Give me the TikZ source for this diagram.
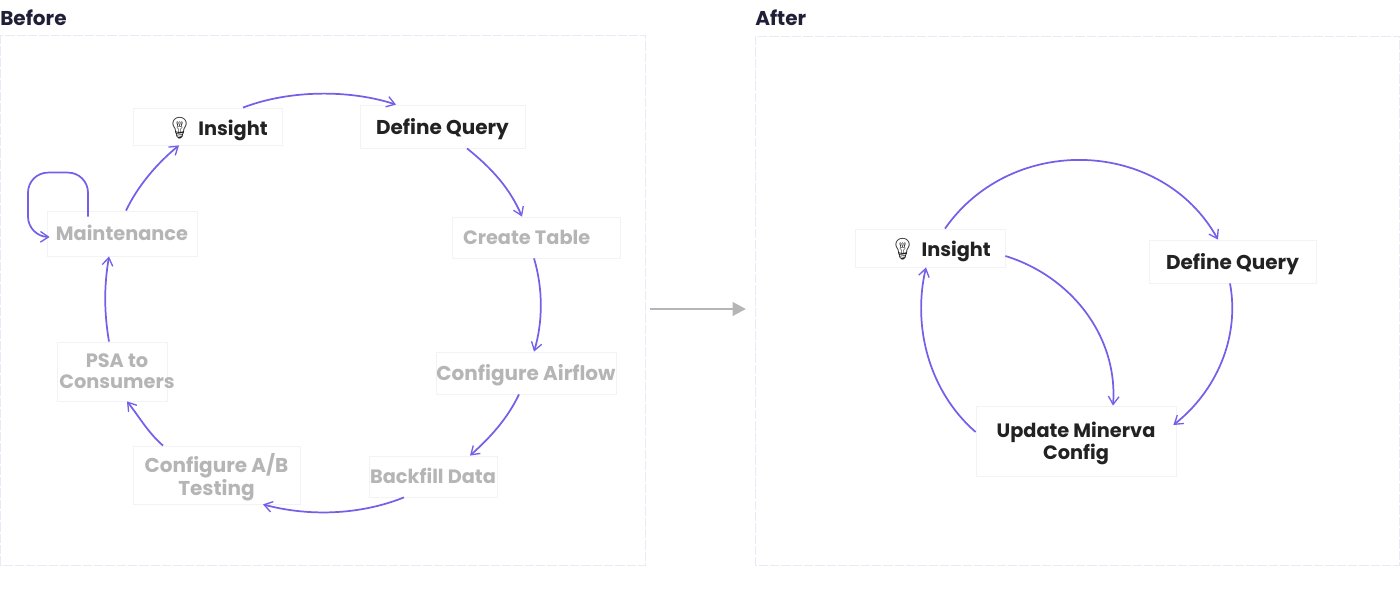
\documentclass[tikz,border=0pt]{standalone}
\usepackage{fontspec}
\setmainfont{Poppins}
\newfontfamily\emojifont{Noto Emoji}
\usetikzlibrary{arrows.meta}
\definecolor{flowpurple}{HTML}{7360E8}
\definecolor{darktext}{HTML}{222222}
\definecolor{muted}{HTML}{B5B5B5}
\definecolor{framelav}{HTML}{ECE9F7}
\definecolor{boxedge}{HTML}{F3F3F7}
\def\px{0.75pt}
\def\bulb{{\emojifont\fontsize{16pt}{16pt}\selectfont\symbol{"1F4A1}}}
\newcommand\boxtext[1]{\raisebox{-2pt}[\height][\depth]{\begin{tabular}{@{}c@{}}#1\end{tabular}}}
\tikzset{
  framebox/.style={draw=framelav,line width=0.7pt,dash pattern=on 7pt off 1.5pt},
  stepbox/.style={draw=boxedge,line width=0.6pt,fill=white,inner sep=0pt,
    font=\fontsize{15pt}{15.8pt}\selectfont\bfseries},
  dark/.style={stepbox,text=darktext},
  faded/.style={stepbox,text=muted},
  snug/.style={font=\fontsize{14.5pt}{15.8pt}\selectfont\bfseries},
  flow/.style={draw=flowpurple,line width=1.3pt,-{Straight Barb[length=6pt,width=8pt,line width=1pt]}},
  title/.style={anchor=west,inner sep=0pt,text=darktext!90!blue,font=\fontsize{15pt}{16pt}\selectfont\bfseries},
}
\begin{document}
\begin{tikzpicture}[x=0.75pt,y=-0.75pt]
\useasboundingbox (0,0) rectangle (1400,606);
\node[title] (tb) at (0,18) {Before};
\node[title] (ta) at (755,18) {After};
\draw[framebox] (0.5,35) rectangle (645,565);
\draw[framebox] (755,36) rectangle (1399.5,565);
% before
\node[dark,snug,minimum width=149*\px,minimum height=37*\px] (ins) at (207.5,126.5) {\hspace*{14pt}\boxtext{\bulb\hspace{4pt}Insight}};
\node[dark,minimum width=165*\px,minimum height=43*\px] (dq) at (442.5,126.5) {\boxtext{Define Query}};
\node[faded,snug,minimum width=168*\px,minimum height=41*\px] (ct) at (536,237.5) {\hspace*{-14pt}\boxtext{Create Table}};
\node[faded,minimum width=180*\px,minimum height=42*\px] (ca) at (526,373) {\boxtext{Configure Airflow}};
\node[faded,snug,minimum width=128*\px,minimum height=41*\px] (bd) at (433,476.5) {\boxtext{Backfill Data}};
\node[faded,minimum width=167*\px,minimum height=58*\px] (ab) at (216.5,475) {\boxtext{Configure A/B\\Testing}};
\node[faded,snug,minimum width=110*\px,minimum height=59*\px] (psa) at (112,371.5) {\makebox[0pt]{\hspace*{7.5pt}\boxtext{PSA to\\Consumers}}};
\node[faded,snug,minimum width=150*\px,minimum height=45*\px] (mt) at (122,233.5) {\boxtext{Maintenance}};
\draw[flow] ([xshift=35.5*\px]ins.north) .. controls +(47,-18) and +(-46,-15) .. ([xshift=-46.5*\px]dq.north);
\draw[flow] ([xshift=24.5*\px]dq.south) .. controls +(25,20) and +(-12,-28) .. ([xshift=-14*\px]ct.north);
\draw[flow] ([xshift=-2*\px]ct.south) .. controls +(9,30) and +(9,-30) .. ([xshift=8*\px]ca.north);
\draw[flow] ([xshift=-7*\px]ca.south) .. controls +(-12,25) and +(20,-18) .. ([xshift=37*\px]bd.north);
\draw[flow] ([xshift=-29*\px]bd.south) .. controls +(-45,18) and +(45,12) .. ([xshift=46.5*\px]ab.south);
\draw[flow] ([xshift=-53.5*\px]ab.north) .. controls +(-15,-13) and +(12,15) .. ([xshift=15*\px]psa.south);
\draw[flow] ([xshift=-3*\px]psa.north) .. controls +(-5,-30) and +(-5,30) .. ([xshift=-13*\px]mt.south);
\draw[flow] ([xshift=4*\px]mt.north) .. controls +(12,-25) and +(-22,18) .. ([xshift=-28.5*\px]ins.south);
\draw[flow,rounded corners=15pt] ([xshift=-34*\px,yshift=-6*\px]mt.north) -- ++(0,-44) -- ++(-60,0) -- ++(0,64) -- ([xshift=3*\px,yshift=-3.5*\px]mt.west);
% transition
\coordinate (gs) at (650,309);
\coordinate (ge) at (746,309);
\draw[draw=muted,line width=2.2pt,-{Triangle[length=10pt,width=10pt]}] (gs) -- (ge);
% after
\node[dark,snug,minimum width=150*\px,minimum height=38*\px] (insa) at (930,248) {\hspace*{15pt}\boxtext{\bulb\hspace{4pt}Insight}};
\node[dark,minimum width=167*\px,minimum height=43*\px] (dqa) at (1232.5,261.5) {\boxtext{Define Query}};
\node[dark,snug,minimum width=200*\px,minimum height=70*\px] (upd) at (1076,441) {\boxtext{Update Minerva\\Config}};
\draw[flow] ([xshift=15*\px]insa.north) .. controls +(67,-96) and +(-56,-101) .. ([xshift=-14.5*\px]dqa.north);
\draw[flow] ([yshift=-8*\px]insa.east) .. controls +(65,20) and +(5,-70) .. ([xshift=37*\px]upd.north);
\draw[flow] ([xshift=-2.5*\px]dqa.south) .. controls +(10,54) and +(43,-34) .. ([xshift=-3*\px,yshift=16*\px]upd.east);
\draw[flow] ([yshift=9*\px]upd.west) .. controls +(-46,-40) and +(-14,60) .. ([xshift=-4*\px]insa.south);
\end{tikzpicture}
\end{document}
